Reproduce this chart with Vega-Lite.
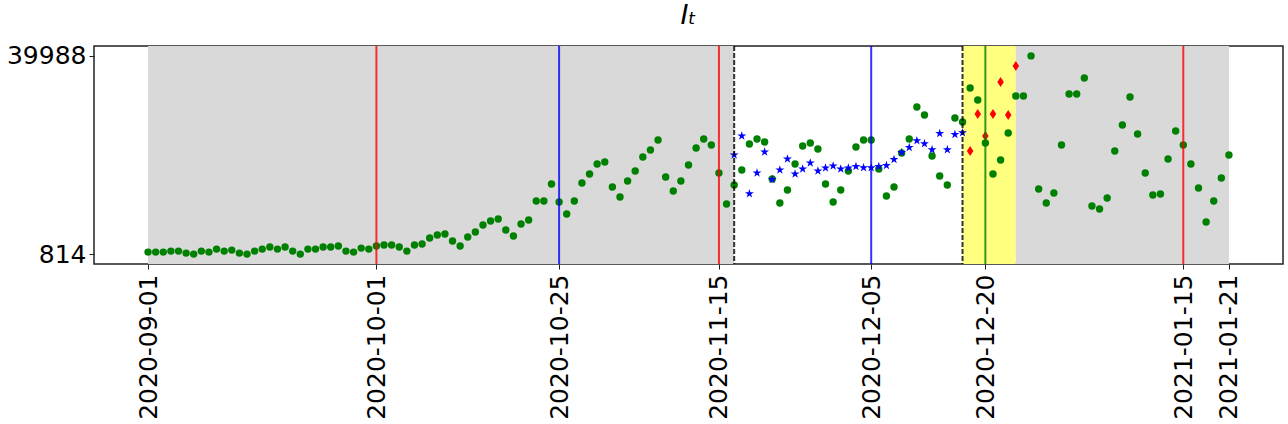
{
  "$schema": "https://vega.github.io/schema/vega-lite/v6.json",
  "autosize": "none",
  "width": 1189,
  "height": 218,
  "padding": {"left": 94, "top": 46, "right": 5, "bottom": 160},
  "background": "white",
  "title": {"text": "Iₜ", "font": "DejaVu Sans", "fontSize": 27, "fontStyle": "italic", "fontWeight": "normal", "offset": 14, "anchor": "middle", "color": "black"},
  "config": {
    "view": {"stroke": "#222222", "strokeWidth": 1.5},
    "axis": {"grid": false, "domain": false, "tickColor": "#222222", "tickSize": 5, "tickWidth": 1, "labelFont": "DejaVu Sans", "labelFontSize": 25, "labelColor": "black", "title": null}
  },
  "datasets": {
    "obs": [
      {"date": "2020-09-01", "value": 1210}, {"date": "2020-09-02", "value": 1210}, {"date": "2020-09-03", "value": 1210},
      {"date": "2020-09-04", "value": 1408}, {"date": "2020-09-05", "value": 1408}, {"date": "2020-09-06", "value": 1012},
      {"date": "2020-09-07", "value": 814}, {"date": "2020-09-08", "value": 1408}, {"date": "2020-09-09", "value": 1210},
      {"date": "2020-09-10", "value": 1803}, {"date": "2020-09-11", "value": 1408}, {"date": "2020-09-12", "value": 1605},
      {"date": "2020-09-13", "value": 1012}, {"date": "2020-09-14", "value": 814}, {"date": "2020-09-15", "value": 1408},
      {"date": "2020-09-16", "value": 1803}, {"date": "2020-09-17", "value": 2199}, {"date": "2020-09-18", "value": 1803},
      {"date": "2020-09-19", "value": 2199}, {"date": "2020-09-20", "value": 1408}, {"date": "2020-09-21", "value": 814},
      {"date": "2020-09-22", "value": 1803}, {"date": "2020-09-23", "value": 1803}, {"date": "2020-09-24", "value": 2199},
      {"date": "2020-09-25", "value": 2199}, {"date": "2020-09-26", "value": 2397}, {"date": "2020-09-27", "value": 1408},
      {"date": "2020-09-28", "value": 1210}, {"date": "2020-09-29", "value": 2001}, {"date": "2020-09-30", "value": 1803},
      {"date": "2020-10-01", "value": 2397}, {"date": "2020-10-02", "value": 2595}, {"date": "2020-10-03", "value": 2595},
      {"date": "2020-10-04", "value": 2199}, {"date": "2020-10-05", "value": 1408}, {"date": "2020-10-06", "value": 2595},
      {"date": "2020-10-07", "value": 2793}, {"date": "2020-10-08", "value": 3980}, {"date": "2020-10-09", "value": 4573},
      {"date": "2020-10-10", "value": 4771}, {"date": "2020-10-11", "value": 3386}, {"date": "2020-10-12", "value": 2397},
      {"date": "2020-10-13", "value": 4177}, {"date": "2020-10-14", "value": 5167}, {"date": "2020-10-15", "value": 6552},
      {"date": "2020-10-16", "value": 7343}, {"date": "2020-10-17", "value": 7739}, {"date": "2020-10-18", "value": 5562},
      {"date": "2020-10-19", "value": 4375}, {"date": "2020-10-20", "value": 6750}, {"date": "2020-10-21", "value": 7541},
      {"date": "2020-10-22", "value": 11300}, {"date": "2020-10-23", "value": 11300}, {"date": "2020-10-24", "value": 14664},
      {"date": "2020-10-25", "value": 11102}, {"date": "2020-10-26", "value": 8728}, {"date": "2020-10-27", "value": 11300},
      {"date": "2020-10-28", "value": 14861}, {"date": "2020-10-29", "value": 16642}, {"date": "2020-10-30", "value": 18621},
      {"date": "2020-10-31", "value": 19016}, {"date": "2020-11-01", "value": 14070}, {"date": "2020-11-02", "value": 12091},
      {"date": "2020-11-03", "value": 15257}, {"date": "2020-11-04", "value": 17236}, {"date": "2020-11-05", "value": 20005},
      {"date": "2020-11-06", "value": 21390}, {"date": "2020-11-07", "value": 23369}, {"date": "2020-11-08", "value": 16048},
      {"date": "2020-11-09", "value": 13278}, {"date": "2020-11-10", "value": 15257}, {"date": "2020-11-11", "value": 18423},
      {"date": "2020-11-12", "value": 21786}, {"date": "2020-11-13", "value": 23567}, {"date": "2020-11-14", "value": 22380},
      {"date": "2020-11-15", "value": 16840}, {"date": "2020-11-16", "value": 10707}, {"date": "2020-11-17", "value": 14466},
      {"date": "2020-11-18", "value": 17433}, {"date": "2020-11-19", "value": 22578}, {"date": "2020-11-20", "value": 23567},
      {"date": "2020-11-21", "value": 22973}, {"date": "2020-11-22", "value": 15653}, {"date": "2020-11-23", "value": 10904},
      {"date": "2020-11-24", "value": 13476}, {"date": "2020-11-25", "value": 18621}, {"date": "2020-11-26", "value": 22182},
      {"date": "2020-11-27", "value": 22775}, {"date": "2020-11-28", "value": 21588}, {"date": "2020-11-29", "value": 14664},
      {"date": "2020-11-30", "value": 11102}, {"date": "2020-12-01", "value": 13476}, {"date": "2020-12-02", "value": 17236},
      {"date": "2020-12-03", "value": 21984}, {"date": "2020-12-04", "value": 23369}, {"date": "2020-12-05", "value": 23369},
      {"date": "2020-12-06", "value": 17631}, {"date": "2020-12-07", "value": 12289}, {"date": "2020-12-08", "value": 14070},
      {"date": "2020-12-09", "value": 20797}, {"date": "2020-12-10", "value": 23567}, {"date": "2020-12-11", "value": 29898},
      {"date": "2020-12-12", "value": 28315}, {"date": "2020-12-13", "value": 20203}, {"date": "2020-12-14", "value": 16246},
      {"date": "2020-12-15", "value": 14466}, {"date": "2020-12-16", "value": 27722}, {"date": "2020-12-17", "value": 26930},
      {"date": "2020-12-18", "value": 33657}, {"date": "2020-12-19", "value": 31283}, {"date": "2020-12-20", "value": 22775},
      {"date": "2020-12-21", "value": 16642}, {"date": "2020-12-22", "value": 19412}, {"date": "2020-12-23", "value": 24754},
      {"date": "2020-12-24", "value": 32074}, {"date": "2020-12-25", "value": 32074}, {"date": "2020-12-26", "value": 39988},
      {"date": "2020-12-27", "value": 13674}, {"date": "2020-12-28", "value": 10904}, {"date": "2020-12-29", "value": 12883},
      {"date": "2020-12-30", "value": 22380}, {"date": "2020-12-31", "value": 32470}, {"date": "2021-01-01", "value": 32470},
      {"date": "2021-01-02", "value": 35636}, {"date": "2021-01-03", "value": 10311}, {"date": "2021-01-04", "value": 9717},
      {"date": "2021-01-05", "value": 11894}, {"date": "2021-01-06", "value": 21193}, {"date": "2021-01-07", "value": 26337},
      {"date": "2021-01-08", "value": 31876}, {"date": "2021-01-09", "value": 24556}, {"date": "2021-01-10", "value": 16840},
      {"date": "2021-01-11", "value": 12487}, {"date": "2021-01-12", "value": 12685}, {"date": "2021-01-13", "value": 19610},
      {"date": "2021-01-14", "value": 25150}, {"date": "2021-01-15", "value": 22380}, {"date": "2021-01-16", "value": 18621},
      {"date": "2021-01-17", "value": 13872}, {"date": "2021-01-18", "value": 7145}, {"date": "2021-01-19", "value": 11300},
      {"date": "2021-01-20", "value": 15851}, {"date": "2021-01-21", "value": 20401}
    ],
    "fit": [
      {"date": "2020-11-17", "value": 20401}, {"date": "2020-11-18", "value": 24160}, {"date": "2020-11-19", "value": 12744},
      {"date": "2020-11-20", "value": 16840}, {"date": "2020-11-21", "value": 20995}, {"date": "2020-11-22", "value": 15574},
      {"date": "2020-11-23", "value": 17433}, {"date": "2020-11-24", "value": 19610}, {"date": "2020-11-25", "value": 16642},
      {"date": "2020-11-26", "value": 17631}, {"date": "2020-11-27", "value": 18818}, {"date": "2020-11-28", "value": 17236},
      {"date": "2020-11-29", "value": 17829}, {"date": "2020-11-30", "value": 18225}, {"date": "2020-12-01", "value": 17631},
      {"date": "2020-12-02", "value": 17829}, {"date": "2020-12-03", "value": 18146}, {"date": "2020-12-04", "value": 17889},
      {"date": "2020-12-05", "value": 17889}, {"date": "2020-12-06", "value": 18146}, {"date": "2020-12-07", "value": 18343},
      {"date": "2020-12-08", "value": 19531}, {"date": "2020-12-09", "value": 20916}, {"date": "2020-12-10", "value": 21905},
      {"date": "2020-12-11", "value": 23230}, {"date": "2020-12-12", "value": 22637}, {"date": "2020-12-13", "value": 21450},
      {"date": "2020-12-14", "value": 24675}, {"date": "2020-12-15", "value": 21450}, {"date": "2020-12-16", "value": 24477},
      {"date": "2020-12-17", "value": 24813}
    ],
    "pred": [
      {"date": "2020-12-18", "value": 21193}, {"date": "2020-12-19", "value": 28513}, {"date": "2020-12-20", "value": 24160},
      {"date": "2020-12-21", "value": 28513}, {"date": "2020-12-22", "value": 34844}, {"date": "2020-12-23", "value": 28315},
      {"date": "2020-12-24", "value": 38010}
    ],
    "bands": [
      {"start": "2020-09-01", "end": "2020-11-17", "kind": "grey"},
      {"start": "2020-12-17", "end": "2020-12-24", "kind": "yellow"},
      {"start": "2020-12-24", "end": "2021-01-21", "kind": "grey"}
    ],
    "vlines": [
      {"date": "2020-10-01", "kind": "red"}, {"date": "2020-11-15", "kind": "red"}, {"date": "2021-01-15", "kind": "red"},
      {"date": "2020-10-25", "kind": "blue"}, {"date": "2020-12-05", "kind": "blue"}, {"date": "2020-12-20", "kind": "green"}
    ],
    "dlines": [{"date": "2020-11-17"}, {"date": "2020-12-17"}]
  },
  "encoding": {
    "x": {"field": "date", "type": "temporal",
      "scale": {"type": "utc", "domain": [1598304960000, 1611800640000]},
      "axis": {"values": [
        {"year": 2020, "month": 9, "date": 1, "utc": true},
        {"year": 2020, "month": 10, "date": 1, "utc": true},
        {"year": 2020, "month": 10, "date": 25, "utc": true},
        {"year": 2020, "month": 11, "date": 15, "utc": true},
        {"year": 2020, "month": 12, "date": 5, "utc": true},
        {"year": 2020, "month": 12, "date": 20, "utc": true},
        {"year": 2021, "month": 1, "date": 15, "utc": true},
        {"year": 2021, "month": 1, "date": 21, "utc": true}
      ], "labelExpr": "utcFormat(datum.value, '%Y-%m-%d')", "labelAngle": -90, "labelAlign": "right", "labelBaseline": "middle", "labelPadding": 5, "labelOverlap": false, "labelFlush": false}
    }
  },
  "layer": [
    {
      "data": {"name": "bands"},
      "mark": {"type": "rect"},
      "encoding": {
        "x": {"field": "start", "type": "temporal"},
        "x2": {"field": "end"},
        "fill": {"field": "kind", "type": "nominal", "scale": {"domain": ["grey", "yellow"], "range": ["#d9d9d9", "#ffff80"]}, "legend": null}
      }
    },
    {
      "data": {"name": "obs"},
      "mark": {"type": "point", "shape": "circle", "filled": true, "size": 55, "color": "green", "opacity": 1},
      "encoding": {
        "y": {"field": "value", "type": "quantitative",
          "scale": {"domain": [-1145, 41947], "nice": false, "zero": false},
          "axis": {"values": [814, 39988], "format": "d", "labelPadding": 3}}
      }
    },
    {
      "data": {"name": "fit"},
      "mark": {"type": "point", "shape": "M0,-1L0.2245,-0.309L0.951,-0.309L0.363,0.118L0.588,0.809L0,0.382L-0.588,0.809L-0.363,0.118L-0.951,-0.309L-0.2245,-0.309Z", "filled": true, "size": 88, "color": "blue", "opacity": 1},
      "encoding": {"y": {"field": "value", "type": "quantitative"}}
    },
    {
      "data": {"name": "pred"},
      "mark": {"type": "point", "shape": "M0,-1L0.65,0L0,1L-0.65,0Z", "filled": true, "size": 100, "color": "red", "opacity": 1},
      "encoding": {"y": {"field": "value", "type": "quantitative"}}
    },
    {
      "data": {"name": "vlines"},
      "mark": {"type": "rule", "strokeWidth": 2, "opacity": 0.8},
      "encoding": {
        "stroke": {"field": "kind", "type": "nominal", "scale": {"domain": ["red", "blue", "green"], "range": ["red", "blue", "green"]}, "legend": null}
      }
    },
    {
      "data": {"name": "dlines"},
      "mark": {"type": "rule", "strokeWidth": 2, "color": "black", "opacity": 0.8, "strokeDash": [5, 2]},
      "encoding": {}
    }
  ]
}
